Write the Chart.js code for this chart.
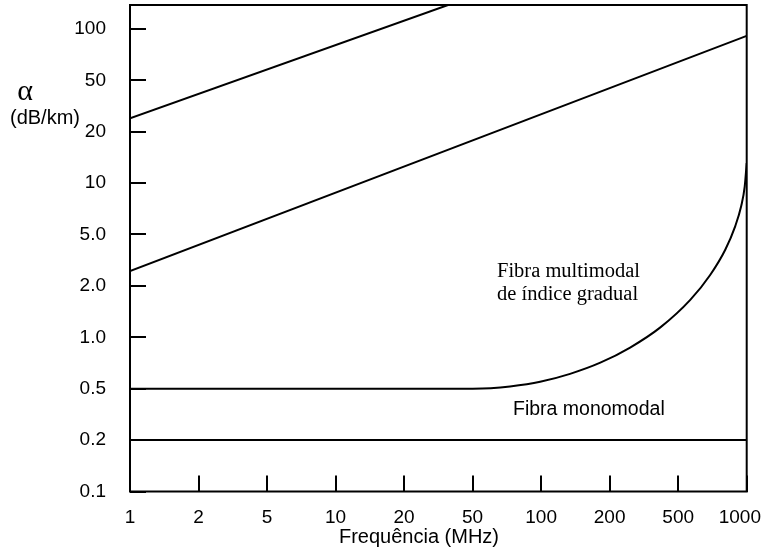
<!DOCTYPE html>
<html><head><meta charset="utf-8">
<script src="https://cdn.jsdelivr.net/npm/chart.js@4.4.0/dist/chart.umd.min.js"></script>
<style>html,body{margin:0;padding:0;background:#fff;overflow:hidden}</style>
</head><body>
<canvas id="c" width="764" height="552" style="display:block;width:764px;height:552px"></canvas>
<script>
// tick values (frequency in MHz, attenuation in dB/km) and their labels
const freqTicks = [1, 2, 5, 10, 20, 50, 100, 200, 500, 1000];
const freqTickLabels = ['1', '2', '5', '10', '20', '50', '100', '200', '500', '1000'];
const attTicks = [0.1, 0.2, 0.5, 1, 2, 5, 10, 20, 50, 100];
const attTickLabels = ['0.1', '0.2', '0.5', '1.0', '2.0', '5.0', '10', '20', '50', '100'];
const attTop = 138;

// series
const upperFreq = [1, 36];
const upperAtt = [25.4, 138];
const middleFreq = [1, 1000];
const middleAtt = [2.6, 91];
const multiFreq = [1, 50, 60, 73, 99, 134, 182, 263, 394, 565, 691, 805, 890, 946, 980, 1000];
const multiAtt = [0.5, 0.5, 0.503, 0.515, 0.549, 0.611, 0.71, 0.871, 1.143, 1.656, 2.43, 3.81, 5.58, 7.34, 9.54, 13.1];
const monoFreq = [1, 1000];
const monoAtt = [0.2, 0.2];

const xTitle = 'Frequência (MHz)';
const yTitle1 = 'α';
const yTitle2 = '(dB/km)';
const multiLabel1 = 'Fibra multimodal';
const multiLabel2 = 'de índice gradual';
const monoLabel = 'Fibra monomodal';

// the axes are evenly spaced between the 1-2-5 ticks: map a value to its tick-index position
function toPos(v, ticks) {
  let i = 0;
  while (i < ticks.length - 2 && v > ticks[i + 1]) i++;
  return i + Math.log(v / ticks[i]) / Math.log(ticks[i + 1] / ticks[i]);
}
function series(fx, fy) {
  return fx.map((f, i) => ({ x: toPos(f, freqTicks), y: toPos(fy[i], attTicks) }));
}

const SANS = '"Liberation Sans", Arial, sans-serif';
const SERIF = '"Liberation Serif", "Times New Roman", serif';

const lineDs = (data, extra) => Object.assign({
  data, borderColor: '#000', borderWidth: 2, pointRadius: 0, fill: false, tension: 0
}, extra || {});

const overlay = {
  id: 'overlay',
  afterDraw(chart) {
    const ctx = chart.ctx, a = chart.chartArea, xs = chart.scales.x;
    ctx.save();
    ctx.strokeStyle = '#000';
    ctx.lineWidth = 2;
    ctx.strokeRect(a.left, a.top, a.right - a.left, a.bottom - a.top);
    ctx.fillStyle = '#000';
    ctx.textBaseline = 'alphabetic';
    // x tick labels, kept inside the canvas
    ctx.font = '19px ' + SANS;
    ctx.textAlign = 'center';
    xs.ticks.forEach(t => {
      const lab = freqTickLabels[t.value];
      const w = ctx.measureText(lab).width;
      const px = Math.min(xs.getPixelForValue(t.value), chart.width - 3 - w / 2);
      ctx.fillText(lab, px, 523);
    });
    // x title
    ctx.font = '20px ' + SANS;
    ctx.fillText(xTitle, 419, 543);
    // y title
    ctx.font = '30px ' + SERIF;
    ctx.fillText(yTitle1, 25, 100);
    ctx.font = '20px ' + SANS;
    ctx.textAlign = 'left';
    ctx.fillText(yTitle2, 10, 124);
    // annotations
    ctx.font = '20.5px ' + SERIF;
    ctx.fillText(multiLabel1, 497, 277);
    ctx.fillText(multiLabel2, 497, 300);
    ctx.font = '19.5px ' + SANS;
    ctx.fillText(monoLabel, 513, 415);
    ctx.restore();
  }
};

new Chart(document.getElementById('c'), {
  type: 'line',
  data: {
    datasets: [
      lineDs(series(upperFreq, upperAtt)),
      lineDs(series(middleFreq, middleAtt)),
      lineDs(series(multiFreq, multiAtt), { cubicInterpolationMode: 'monotone' }),
      lineDs(series(monoFreq, monoAtt))
    ]
  },
  options: {
    responsive: false,
    animation: false,
    layout: { padding: { top: 5, right: 17.3, left: 0, bottom: 0 } },
    plugins: { legend: { display: false }, tooltip: { enabled: false }, title: { display: false } },
    scales: {
      x: {
        type: 'linear',
        min: 0,
        max: freqTicks.length - 1,
        afterBuildTicks: s => { s.ticks = freqTicks.map((_, i) => ({ value: i })); },
        afterFit: s => { s.height = 60.5; s.paddingLeft = 0; s.paddingRight = 0; },
        grid: { drawOnChartArea: false, drawTicks: true, tickLength: -16, color: '#000', lineWidth: 2 },
        border: { display: false },
        ticks: { display: false }
      },
      y: {
        type: 'linear',
        min: 0,
        max: toPos(attTop, attTicks),
        afterBuildTicks: s => { s.ticks = attTicks.map((_, i) => ({ value: i })); },
        afterFit: s => { s.width = 130; s.paddingTop = 0; s.paddingBottom = 0; },
        grid: { drawOnChartArea: false, drawTicks: true, tickLength: -16, color: '#000', lineWidth: 2 },
        border: { display: false },
        ticks: {
          padding: 40,
          color: '#000',
          font: { size: 19, family: SANS },
          callback: v => attTickLabels[v]
        }
      }
    }
  },
  plugins: [overlay]
});
</script>
</body></html>
